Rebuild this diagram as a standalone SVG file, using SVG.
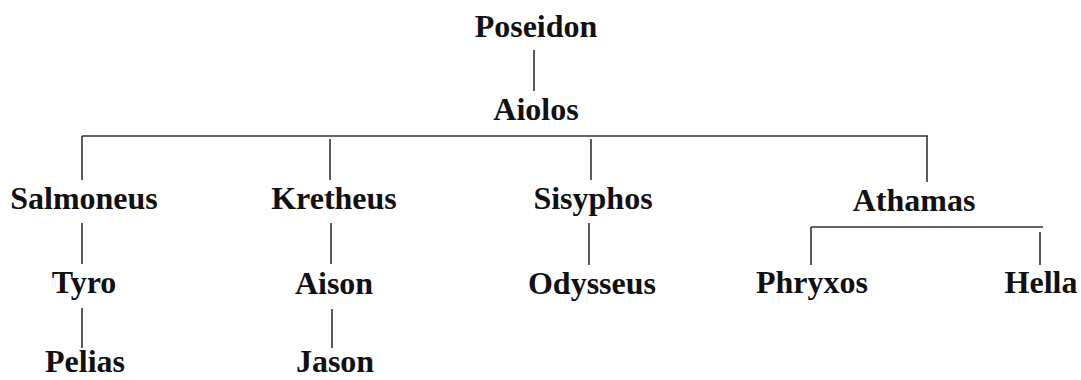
<svg xmlns="http://www.w3.org/2000/svg" width="1081" height="380" viewBox="0 0 1081 380">
<style>
text{font-family:"Liberation Serif","Times New Roman",serif;font-weight:bold;font-size:32px;fill:#111;text-anchor:middle}
.c line{stroke:#333;stroke-width:1.6;fill:none}
</style>
<rect width="1081" height="380" fill="#fff"/>
<g class="c" id="connectors">
<line x1="534" y1="50" x2="534" y2="91"/>
<line x1="82" y1="136" x2="928" y2="136"/>
<line x1="82" y1="136" x2="82" y2="180"/>
<line x1="330" y1="139" x2="330" y2="180"/>
<line x1="591" y1="139" x2="591" y2="180"/>
<line x1="927" y1="136" x2="927" y2="182"/>
<line x1="82" y1="223" x2="82" y2="264"/>
<line x1="82" y1="308" x2="82" y2="348"/>
<line x1="331" y1="223" x2="331" y2="264"/>
<line x1="332" y1="309" x2="332" y2="348"/>
<line x1="589" y1="223" x2="589" y2="265"/>
<line x1="811" y1="227" x2="1043" y2="227"/>
<line x1="811" y1="227" x2="811" y2="265"/>
<line x1="1040" y1="232" x2="1040" y2="265"/>
</g>
<g id="poseidon"><text x="536" y="37">Poseidon</text></g>
<g id="aiolos"><text x="536" y="120">Aiolos</text></g>
<g id="salmoneus"><text x="84" y="209">Salmoneus</text></g>
<g id="kretheus"><text x="334" y="209">Kretheus</text></g>
<g id="sisyphos"><text x="593" y="209">Sisyphos</text></g>
<g id="athamas"><text x="914" y="211">Athamas</text></g>
<g id="tyro"><text x="84" y="293">Tyro</text></g>
<g id="aison"><text x="334" y="294">Aison</text></g>
<g id="odysseus"><text x="592" y="294">Odysseus</text></g>
<g id="phryxos"><text x="812" y="293">Phryxos</text></g>
<g id="hella"><text x="1041" y="293">Hella</text></g>
<g id="pelias"><text x="85" y="372">Pelias</text></g>
<g id="jason"><text x="335" y="372">Jason</text></g>
</svg>
